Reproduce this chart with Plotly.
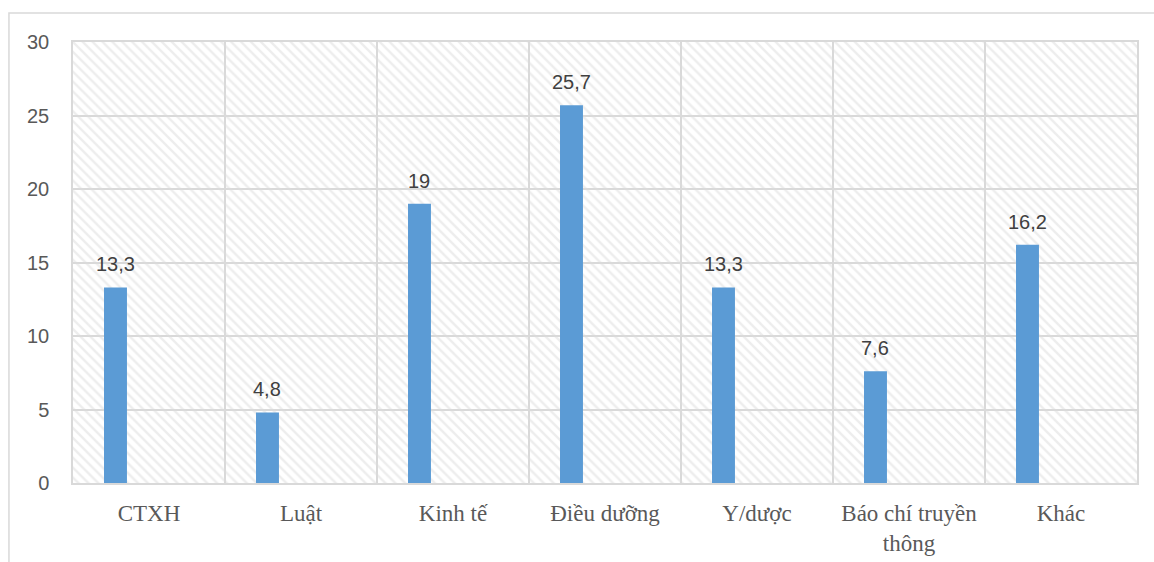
import plotly.graph_objects as go

categories = ["CTXH", "Luật", "Kinh tế", "Điều dưỡng", "Y/dược", "Báo chí truyền<br>thông", "Khác"]
values = [13.3, 4.8, 19, 25.7, 13.3, 7.6, 16.2]
y_ticks = [0, 5, 10, 15, 20, 25, 30]

BAR_WIDTH = 0.151
BAR_OFFSET = -0.296
SLOT_PX = 152  # pixel width of one category slot


def fmt(v):
    s = f"{v:g}"
    return s.replace(".", ",")


labels = [fmt(v) for v in values]

fig = go.Figure()

# hatched plot background, one full-height block per category slot
fig.add_trace(go.Bar(
    x=categories,
    y=[max(y_ticks)] * len(categories),
    width=1,
    offset=-0.5,
    marker=dict(
        color="rgba(0,0,0,0)",
        line=dict(width=0),
        pattern=dict(shape="\\", fgcolor="#dcdcdc", bgcolor="rgba(0,0,0,0)",
                     size=7, solidity=0.35),
    ),
    hoverinfo="skip",
    showlegend=False,
))

fig.add_trace(go.Bar(
    x=categories,
    y=values,
    width=BAR_WIDTH,
    offset=BAR_OFFSET,
    marker=dict(color="#5b9bd5", line=dict(width=0)),
    showlegend=False,
))

# value labels above each bar
bar_center_shift = (BAR_OFFSET + BAR_WIDTH / 2) * SLOT_PX
for cat, val, lab in zip(categories, values, labels):
    fig.add_annotation(
        x=cat, y=val, text=lab, showarrow=False,
        xanchor="center", yanchor="bottom",
        xshift=bar_center_shift, yshift=10,
        font=dict(family="Liberation Sans", size=20, color="#404040"),
    )

fig.update_layout(
    width=1154,
    height=562,
    margin=dict(l=73, r=17, t=42, b=79, autoexpand=False),
    paper_bgcolor="white",
    plot_bgcolor="white",
    barmode="overlay",
    shapes=[dict(
        type="rect", xref="paper", yref="paper",
        x0=-0.0602, x1=1.2, y0=-0.3, y1=1.0658,
        line=dict(color="#d9d9d9", width=1.5),
        fillcolor="rgba(0,0,0,0)", layer="below",
    )],
)

fig.update_xaxes(
    type="category",
    automargin=False,
    tickson="boundaries",
    showgrid=True,
    gridcolor="#d9d9d9",
    gridwidth=1.5,
    showline=True,
    linecolor="#d9d9d9",
    linewidth=1.5,
    mirror=True,
    ticks="",
    ticklabelstandoff=9,
    tickfont=dict(family="Liberation Serif", size=23, color="#595959"),
)

fig.update_yaxes(
    range=[0, 30],
    automargin=False,
    tickvals=y_ticks,
    showgrid=True,
    gridcolor="#d9d9d9",
    gridwidth=1.5,
    zeroline=False,
    showline=True,
    linecolor="#d9d9d9",
    linewidth=1.5,
    mirror=True,
    ticks="",
    ticklabelstandoff=18,
    tickfont=dict(family="Liberation Sans", size=20, color="#595959"),
)

fig.write_html("out.html")
